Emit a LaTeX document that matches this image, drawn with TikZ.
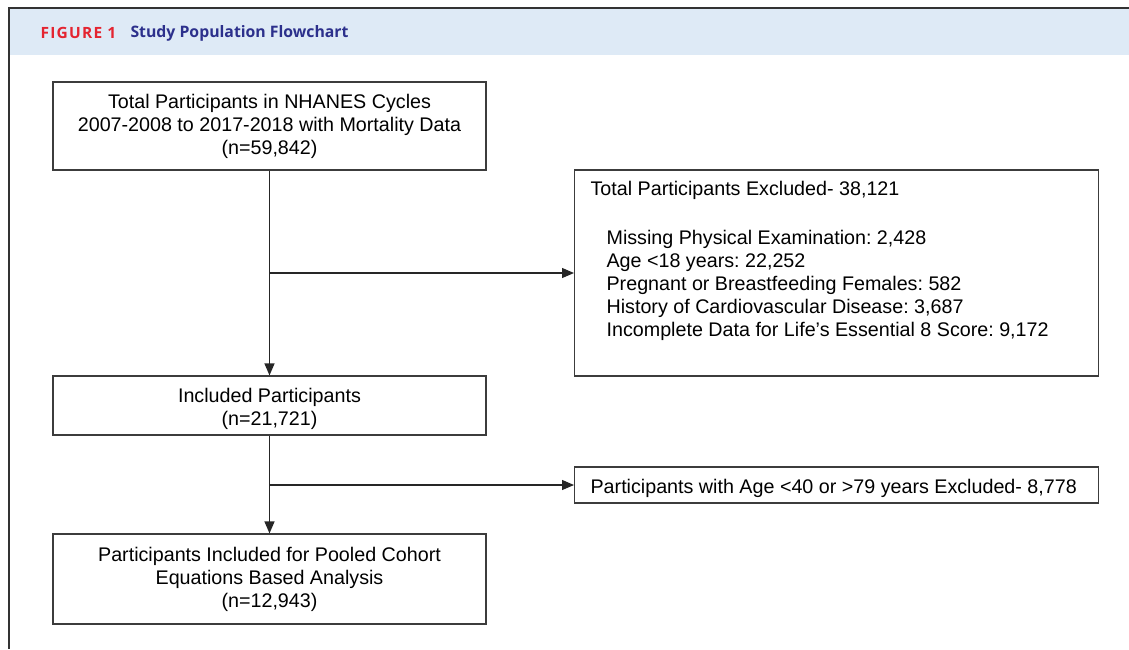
\documentclass[tikz,border=0pt]{standalone}
\usepackage{fontspec}
\setmainfont{Liberation Sans}
\newfontfamily\headfont{Open Sans}
\newfontfamily\labelfont{Open Sans}[LetterSpace=8]
\usetikzlibrary{arrows.meta, positioning}
\definecolor{headbg}{RGB}{222,234,246}
\definecolor{figred}{RGB}{228,36,48}
\definecolor{figblue}{RGB}{44,48,140}
\definecolor{boxline}{RGB}{60,60,60}
\frenchspacing

\begin{document}
\begin{tikzpicture}[x=1pt, y=-1pt,
        font=\fontsize{19.7}{23}\selectfont,
        flowbox/.style={draw=boxline, line width=1.2pt, minimum width=433pt, align=center, inner sep=0pt},
        exclbox/.style={draw=boxline, line width=1.2pt, inner xsep=16pt, inner ysep=0pt,
                        align=left, anchor=west},
        flowarrow/.style={draw=black!85, line width=1.2pt, -{Triangle[length=12pt, width=10pt]}}
    ]
        \useasboundingbox (0,0) rectangle (1129,649);
        % header band and frame
        \fill[headbg] (9,9) rectangle (1129,55);
        \draw[black!80, line width=2pt] (1129,8) -- (9,8) -- (9,649);
        \node[anchor=west, text=figred, font=\labelfont\bfseries\fontsize{15.5}{18}\selectfont] (figlabel) at (37,33) {FIGURE 1};
        \node[anchor=west, text=figblue, font=\headfont\bfseries\fontsize{15.8}{18}\selectfont] (figtitle) at (127,33) {Study Population Flowchart};

        % main column
        \node[flowbox, minimum height=88pt] (total) at (269.5,126)
            {Total Participants in NHANES Cycles\\2007-2008 to 2017-2018 with Mortality Data\\(n=59,842)};
        \node[flowbox, minimum height=59pt] (included) at (269.5,405.5)
            {\rule{0pt}{22pt}Included Participants\\(n=21,721)};
        \node[flowbox, minimum height=90pt] (pooled) at (269.5,579)
            {Participants Included for Pooled Cohort\\Equations Based Analysis\\(n=12,943)};

        % exclusions
        \node[exclbox, minimum height=206pt] (excl) at (574,273)
            {\parbox[c][206pt][t]{492pt}{\rule{0pt}{25pt}Total Participants Excluded- 38,121\\[26pt]
             \hspace*{16pt}Missing Physical Examination: 2,428\\
             \hspace*{16pt}Age <18 years: 22,252\\
             \hspace*{16pt}Pregnant or Breastfeeding Females: 582\\
             \hspace*{16pt}History of Cardiovascular Disease: 3,687\\
             \hspace*{16pt}Incomplete Data for Life’s Essential 8 Score: 9,172}};
        \node[exclbox, minimum height=36pt, text height=16pt, text depth=0pt] (agecut) at (574,485)
            {\makebox[492pt][l]{Participants with Age <40 or >79 years Excluded- 8,778}};

        % connectors
        \coordinate (split1) at (total.south |- excl.west);
        \coordinate (split2) at (included.south |- agecut.west);
        \draw[flowarrow] (total) -- (included);
        \draw[flowarrow] (split1) -- (excl.west);
        \draw[flowarrow] (included) -- (pooled);
        \draw[flowarrow] (split2) -- (agecut.west);
    \end{tikzpicture}
\end{document}
